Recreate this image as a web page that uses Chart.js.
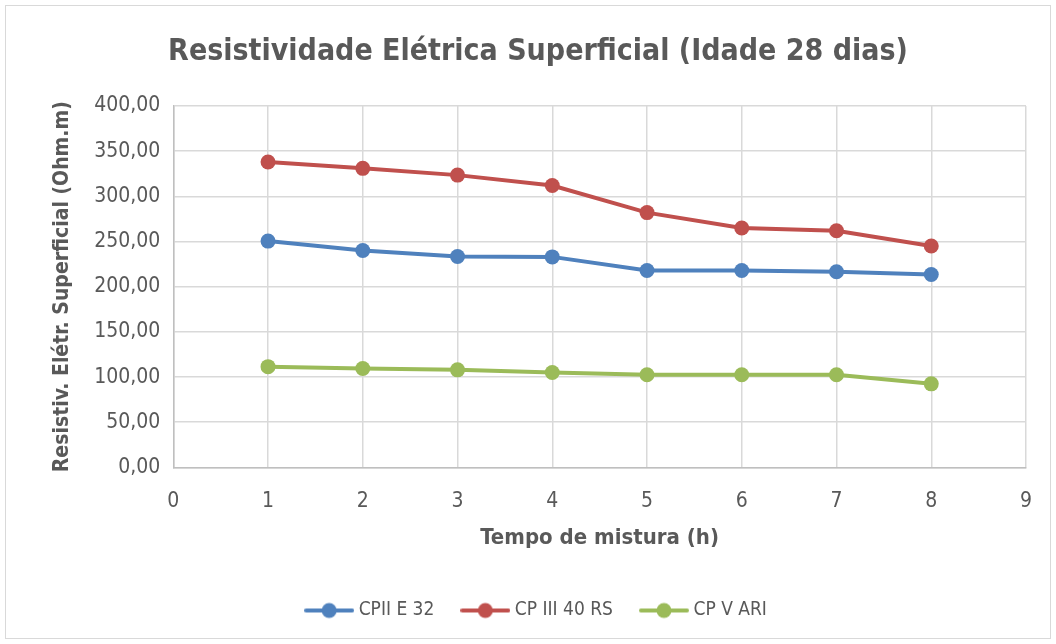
<!DOCTYPE html>
<html>
<head>
<meta charset="utf-8">
<script src="https://cdn.jsdelivr.net/npm/chart.js@4.4.1/dist/chart.umd.min.js"></script>
<style>
  html, body { margin: 0; padding: 0; background: #fff; }
  #wrap { position: absolute; left: 0; top: 0; width: 1056px; height: 644px; }
</style>
</head>
<body>
<div id="wrap"><canvas id="myChart"></canvas></div>
<script>
const tempo = [1, 2, 3, 4, 5, 6, 7, 8];
const cpiiE32 = [250.5, 240, 233.5, 233, 218, 218, 216.5, 213.5];
const cpIII40RS = [338, 331, 323.5, 312, 282, 265, 262, 245];
const cpVARI = [111.5, 109.5, 108, 105, 102.5, 102.5, 102.5, 92.5];

const seriesNames = ['CPII E 32', 'CP III 40 RS', 'CP V ARI'];
const seriesColors = ['#4F81BD', '#C0504D', '#9BBB59'];

const font = "'DejaVu Sans Condensed', 'Liberation Sans', sans-serif";
const textColor = '#595959';

// line + dot icon for the legend (Excel style)
function legendIcon(color) {
    const c = document.createElement('canvas');
    c.width = 50;
    c.height = 18;
    const g = c.getContext('2d');
    g.strokeStyle = color;
    g.lineWidth = 4;
    g.lineCap = 'round';
    g.beginPath();
    g.moveTo(2, 9);
    g.lineTo(48, 9);
    g.stroke();
    g.fillStyle = color;
    g.beginPath();
    g.arc(25, 9, 7.5, 0, Math.PI * 2);
    g.fill();
    return c;
}

function toPoints(values) {
    return tempo.map((t, i) => ({ x: t, y: values[i] }));
}

const allSeries = [cpiiE32, cpIII40RS, cpVARI];

const data = {
    datasets: allSeries.map((vals, i) => ({
        label: seriesNames[i],
        data: toPoints(vals),
        borderColor: seriesColors[i],
        backgroundColor: seriesColors[i],
        borderWidth: 4,
        pointRadius: 7.5,
        pointHoverRadius: 7.5,
        pointBorderWidth: 0,
        tension: 0
    }))
};

const frame = {
    id: 'frame',
    beforeDraw(chart) {
        const ctx = chart.ctx;
        ctx.save();
        ctx.fillStyle = '#fff';
        ctx.fillRect(0, 0, chart.width, chart.height);
        ctx.strokeStyle = '#d9d9d9';
        ctx.lineWidth = 1;
        ctx.strokeRect(5.5, 5.5, chart.width - 11, chart.height - 11);
        ctx.restore();
    }
};

const config = {
    type: 'line',
    data: data,
    plugins: [frame],
    options: {
        responsive: true,
        maintainAspectRatio: false,
        animation: false,
        layout: {
            padding: { top: 34, right: 30, bottom: 14, left: 50 }
        },
        plugins: {
            title: {
                display: true,
                text: 'Resistividade Elétrica Superficial (Idade 28 dias)',
                color: textColor,
                font: { family: font, size: 30, weight: 'bold' },
                padding: { top: 0, bottom: 36 }
            },
            legend: {
                position: 'bottom',
                labels: {
                    color: textColor,
                    font: { family: font, size: 19 },
                    usePointStyle: true,
                    pointStyleWidth: 40,
                    padding: 31,
                    generateLabels(chart) {
                        return chart.data.datasets.map((ds, i) => ({
                            text: ds.label,
                            fontColor: textColor,
                            pointStyle: legendIcon(ds.borderColor),
                            strokeStyle: ds.borderColor,
                            fillStyle: ds.borderColor,
                            lineWidth: 0,
                            hidden: false,
                            datasetIndex: i
                        }));
                    }
                }
            },
            tooltip: { enabled: false }
        },
        scales: {
            x: {
                type: 'linear',
                min: 0,
                max: 9,
                ticks: {
                    stepSize: 1,
                    color: textColor,
                    font: { family: font, size: 21 },
                    padding: 22
                },
                grid: { color: '#d9d9d9', lineWidth: 1.5, drawTicks: false },
                border: { color: '#bfbfbf', width: 1.5 },
                title: {
                    display: true,
                    text: 'Tempo de mistura (h)',
                    color: textColor,
                    font: { family: font, size: 22, weight: 'bold' },
                    padding: { top: -12, bottom: 19 }
                }
            },
            y: {
                min: 0,
                max: 400,
                ticks: {
                    stepSize: 50,
                    color: textColor,
                    font: { family: font, size: 21 },
                    padding: 13,
                    callback: v => v.toFixed(2).replace('.', ',')
                },
                grid: { color: '#d9d9d9', lineWidth: 1.5, drawTicks: false },
                border: { color: '#bfbfbf', width: 1.5 },
                title: {
                    display: true,
                    text: 'Resistiv. Elétr. Superficial (Ohm.m)',
                    color: textColor,
                    font: { family: font, size: 21, weight: 'bold' },
                    padding: { top: 0, bottom: 6 }
                }
            }
        }
    }
};

const myChart = new Chart(document.getElementById('myChart'), config);
</script>
</body>
</html>
